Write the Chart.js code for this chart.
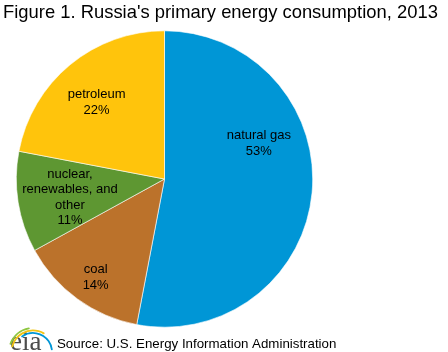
<!DOCTYPE html>
<html>
<head>
<meta charset="utf-8">
<script src="https://cdn.jsdelivr.net/npm/chart.js@4"></script>
<style>
    html, body { margin: 0; padding: 0; background: #fff; }
    #wrap { position: relative; width: 448px; height: 352px; }
</style>
</head>
<body>
<div id="wrap"><canvas id="pie-canvas" width="448" height="352"></canvas></div>
<script>
const categories = ['natural gas', 'coal', 'nuclear, renewables, and other', 'petroleum'];
const labelLines = [['natural gas'], ['coal'], ['nuclear,', 'renewables, and', 'other'], ['petroleum']];
const shares = [53, 14, 11, 22];
const sliceColors = ['#0096D6', '#BB722B', '#5E9732', '#FFC40C'];

const titleText = "Figure 1. Russia's primary energy consumption, 2013";
const sourceText = 'Source: U.S. Energy Information Administration';

// label placement inside each slice: angle shift (deg) from the bisector and distance as part of the radius
const labelPlace = [
    { turn: -26, dist: 0.68 },
    { turn: -1, dist: 0.81 },
    { turn: -2, dist: 0.65 },
    { turn: -2, dist: 0.69 }
];

const sliceLabels = {
    id: 'sliceLabels',
    afterDatasetsDraw(chart) {
        const ctx = chart.ctx;
        const arcs = chart.getDatasetMeta(0).data;
        ctx.save();
        ctx.font = '13px "Liberation Sans", Arial, sans-serif';
        ctx.fillStyle = '#000';
        ctx.textAlign = 'center';
        ctx.textBaseline = 'middle';
        arcs.forEach((arc, i) => {
            const mid = (arc.startAngle + arc.endAngle) / 2 + labelPlace[i].turn * Math.PI / 180;
            const r = arc.outerRadius * labelPlace[i].dist;
            const cx = arc.x + Math.cos(mid) * r;
            const cy = arc.y + Math.sin(mid) * r;
            const lines = labelLines[i].concat([shares[i] + '%']);
            const lh = 15.5;
            const top = cy - (lines.length - 1) * lh / 2;
            lines.forEach((t, k) => ctx.fillText(t, cx, top + k * lh));
        });
        ctx.restore();
    }
};

const frameText = {
    id: 'frameText',
    afterDraw(chart) {
        const ctx = chart.ctx;
        ctx.save();
        ctx.fillStyle = '#000';
        ctx.textBaseline = 'alphabetic';
        ctx.textAlign = 'left';
        ctx.font = '18.4px "Liberation Sans", Arial, sans-serif';
        ctx.fillText(titleText, 3, 18);
        ctx.font = '13.3px "Liberation Sans", Arial, sans-serif';
        ctx.fillText(sourceText, 57, 348);

        // eia logo
        ctx.fillStyle = '#4d4d4d';
        ctx.font = '27px "Liberation Serif", "DejaVu Serif", serif';
        ctx.fillText('eia', 10, 350);
        ctx.lineWidth = 1.8;
        ctx.lineCap = 'round';
        const deg = Math.PI / 180;
        const swoosh = [['#8DC63F', 24, -160, -100], ['#F2C413', 21.5, -165, -60], ['#0096D6', 19, -125, -8]];
        swoosh.forEach(([c, rr, a0, a1]) => {
            ctx.strokeStyle = c;
            ctx.beginPath();
            ctx.arc(33, 352, rr, a0 * deg, a1 * deg);
            ctx.stroke();
        });
        ctx.restore();
    }
};

new Chart(document.getElementById('pie-canvas'), {
    type: 'pie',
    data: {
        labels: categories,
        datasets: [{
            data: shares,
            backgroundColor: sliceColors,
            borderColor: '#fff',
            borderWidth: 0.6
        }]
    },
    options: {
        responsive: false,
        animation: false,
        layout: {
            padding: { left: 16, right: 135, top: 30, bottom: 24 }
        },
        plugins: {
            legend: { display: false },
            tooltip: { enabled: false },
            title: { display: false }
        }
    },
    plugins: [sliceLabels, frameText]
});
</script>
</body>
</html>
